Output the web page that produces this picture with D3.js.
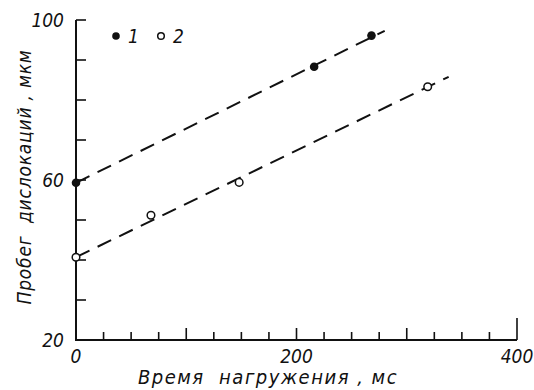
<!DOCTYPE html>
<html>
<head>
<meta charset="utf-8">
<script src="https://cdn.jsdelivr.net/npm/d3@7"></script>
<style>
  body { margin: 0; background: #fff; }
  text { font-family: "DejaVu Sans Condensed", "Liberation Sans Narrow", sans-serif; font-style: oblique; fill: #111; white-space: pre; }
</style>
</head>
<body>
<div id="chart"></div>
<script>
// --- Data ---
const series1 = [[0, 59.3], [216, 88.3], [268, 96.1]];           // filled dots
const series2 = [[0, 40.7], [68, 51.2], [148, 59.4], [319, 83.3]]; // open dots
const fit1 = [[0, 59.3], [280, 97.3]];
const fit2 = [[0, 40.7], [338, 85.8]];
const xTickLabels = [0, 200, 400];
const yTickLabels = [20, 60, 100];
const legendLabels = ["1", "2"];

// --- Dimensions ---
const width = 534;
const height = 390;

const svg = d3.select("#chart")
  .append("svg")
  .attr("width", width)
  .attr("height", height);

const x = d3.scaleLinear().domain([0, 400]).range([76, 517]);
const y = d3.scaleLinear().domain([20, 100]).range([340, 20]);

// --- Axes ---
svg.append("line")
  .attr("x1", x(0)).attr("x2", x(0))
  .attr("y1", y(100)).attr("y2", y(20) + 1)
  .attr("stroke", "#111").attr("stroke-width", 2);
svg.append("line")
  .attr("x1", x(0) - 1).attr("x2", x(400))
  .attr("y1", y(20)).attr("y2", y(20))
  .attr("stroke", "#111").attr("stroke-width", 2);

// y ticks every 10, pointing inside
svg.selectAll(".ytick")
  .data(d3.range(30, 101, 10))
  .join("line")
  .attr("x1", x(0)).attr("x2", x(0) + 10)
  .attr("y1", d => y(d)).attr("y2", d => y(d))
  .attr("stroke", "#111").attr("stroke-width", 1.6);

// x ticks every 25, longer every 100
svg.selectAll(".xtick")
  .data(d3.range(25, 401, 25))
  .join("line")
  .attr("x1", d => x(d)).attr("x2", d => x(d))
  .attr("y1", y(20))
  .attr("y2", d => y(20) - (d === 400 ? 22 : d % 100 === 0 ? 12 : 8))
  .attr("stroke", "#111").attr("stroke-width", 1.6);

svg.selectAll(".ylab")
  .data(yTickLabels)
  .join("text")
  .attr("x", x(0) - 12)
  .attr("y", d => y(d) + 7)
  .attr("text-anchor", "end")
  .style("font-size", "19px")
  .text(d => d);

svg.selectAll(".xlab")
  .data(xTickLabels)
  .join("text")
  .attr("x", d => x(d))
  .attr("y", 363)
  .attr("text-anchor", "middle")
  .style("font-size", "19px")
  .text(d => d);

// axis titles
svg.append("text")
  .attr("x", 268).attr("y", 384)
  .attr("text-anchor", "middle")
  .style("font-size", "20px")
  .style("letter-spacing", "1.5px")
  .text("Время  нагружения , мс");

svg.append("text")
  .attr("transform", "translate(31,177) rotate(-90)")
  .attr("text-anchor", "middle")
  .style("font-size", "19px")
  .style("letter-spacing", "0.8px")
  .text("Пробег  дислокаций , мкм");

// --- Fit lines ---
const line = d3.line().x(d => x(d[0])).y(d => y(d[1]));
[fit1, fit2].forEach(f => {
  svg.append("path")
    .attr("d", line(f))
    .attr("fill", "none")
    .attr("stroke", "#111")
    .attr("stroke-width", 2)
    .attr("stroke-dasharray", "15,9");
});

// --- Points ---
svg.selectAll(".p1")
  .data(series1)
  .join("circle")
  .attr("cx", d => x(d[0])).attr("cy", d => y(d[1]))
  .attr("r", 4.3)
  .attr("fill", "#111");

svg.selectAll(".p2")
  .data(series2)
  .join("circle")
  .attr("cx", d => x(d[0])).attr("cy", d => y(d[1]))
  .attr("r", 3.8)
  .attr("fill", "#fff")
  .attr("stroke", "#111")
  .attr("stroke-width", 1.5);

// --- Legend ---
svg.append("circle").attr("cx", 116).attr("cy", 36).attr("r", 3.8).attr("fill", "#111");
svg.append("circle").attr("cx", 161).attr("cy", 36).attr("r", 3.3)
  .attr("fill", "#fff").attr("stroke", "#111").attr("stroke-width", 1.5);
svg.selectAll(".leg")
  .data(legendLabels)
  .join("text")
  .attr("x", (d, i) => 128 + i * 45)
  .attr("y", 43)
  .style("font-size", "19px")
  .text(d => d);
</script>
</body>
</html>
